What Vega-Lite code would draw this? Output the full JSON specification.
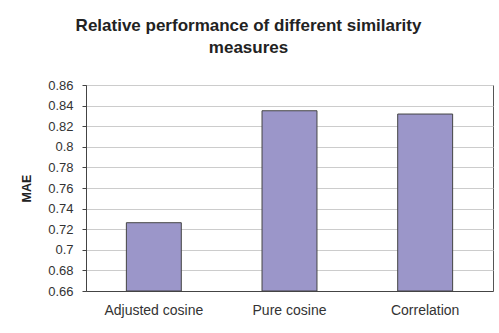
{
  "$schema": "https://vega.github.io/schema/vega-lite/v6.json",
  "autosize": "none",
  "width": 407,
  "height": 206,
  "padding": {"left": 86, "top": 85, "right": 6, "bottom": 42},
  "background": "white",
  "title": {
    "text": ["Relative performance of different similarity", "measures"],
    "font": "Liberation Sans",
    "fontSize": 17,
    "fontWeight": "bold",
    "color": "#222222",
    "anchor": "middle",
    "frame": "group",
    "dx": -41,
    "offset": 22,
    "lineHeight": 22
  },
  "config": {
    "view": {"stroke": "#555555", "strokeWidth": 1},
    "axis": {"labelFont": "Liberation Sans", "titleFont": "Liberation Sans", "labelColor": "#333333", "domainColor": "#444444", "tickColor": "#444444"}
  },
  "data": {
    "values": [
      {"measure": "Adjusted cosine", "MAE": 0.7263},
      {"measure": "Pure cosine", "MAE": 0.835},
      {"measure": "Correlation", "MAE": 0.8318}
    ]
  },
  "mark": {"type": "bar", "color": "#9b96c9", "stroke": "#444444", "strokeWidth": 1},
  "encoding": {
    "x": {
      "field": "measure",
      "type": "nominal",
      "sort": null,
      "scale": {"paddingInner": 0.595, "paddingOuter": 0.2975},
      "axis": {"title": null, "labelAngle": 0, "labelFontSize": 14, "labelPadding": 12, "ticks": false, "domainWidth": 1.2}
    },
    "y": {
      "field": "MAE",
      "type": "quantitative",
      "scale": {"domain": [0.66, 0.86], "nice": false, "zero": false},
      "axis": {
        "title": "MAE",
        "titleFontSize": 12.5,
        "titleFontWeight": "bold",
        "titleColor": "#222222",
        "titlePadding": 14,
        "values": [0.66, 0.68, 0.7, 0.72, 0.74, 0.76, 0.78, 0.8, 0.82, 0.84, 0.86],
        "format": ".2~f",
        "labelFontSize": 13,
        "labelPadding": 9,
        "tickSize": 4,
        "gridColor": "#cccccc",
        "gridWidth": 1
      }
    },
    "y2": {"datum": 0.66}
  }
}
